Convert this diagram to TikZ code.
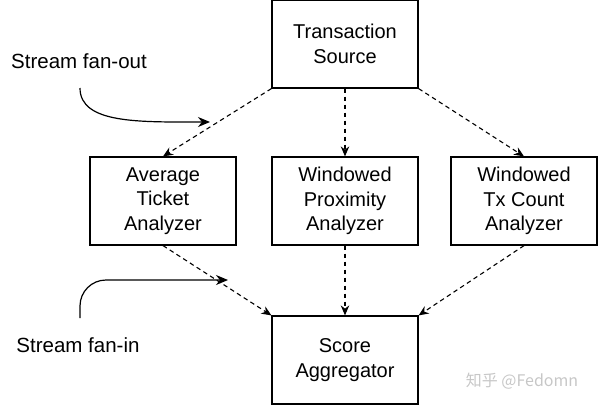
\documentclass[tikz,border=0pt]{standalone}
\usepackage{fontspec}
\setmainfont{Liberation Sans}
\newfontfamily\cjkfont{Noto Sans CJK SC}
\usetikzlibrary{arrows.meta}

\begin{document}
\begin{tikzpicture}[x=1pt, y=-1pt,
  stagebox/.style={draw, line width=1.2pt, minimum width=146pt, minimum height=88pt,
    inner sep=0pt, align=center, font=\fontsize{20}{24.5}\selectfont},
  flow/.style={-{Stealth[length=10pt,width=8.5pt]}, dashed, dash pattern=on 4.5pt off 3.5pt, line width=1.1pt},
  note/.style={-{Stealth[length=12pt,width=10pt]}, line width=1.2pt},
  notetext/.style={font=\fontsize{20.5}{24}\selectfont}]
\useasboundingbox (0,0) rectangle (600,405);

%stages
  \node[stagebox] (src)  at (345,44)  {Transaction\\Source};
  \node[stagebox] (avg)  at (163,201) {Average\\Ticket\\Analyzer};
  \node[stagebox] (prox) at (345,201) {Windowed\\Proximity\\Analyzer};
  \node[stagebox] (cnt)  at (524,201) {Windowed\\Tx Count\\Analyzer};
  \node[stagebox] (agg)  at (345,360) {Score\\Aggregator};

%fan-out
  \draw[flow] (src.south west) -- (avg.north);
  \draw[flow] (src) -- (prox);
  \draw[flow] (src.south east) -- (cnt.north);

%fan-in
  \draw[flow] (avg.south) -- (agg.north west);
  \draw[flow] (prox) -- (agg);
  \draw[flow] (cnt.south) -- (agg.north east);

%notes
  \node[notetext] (fanout) at (79,61) {Stream fan-out};
  \coordinate (fanoutS) at (80,88);
  \coordinate (fanoutE) at (210,122);
  \draw[note] (fanoutS) .. controls (80,124) and (140,122) .. (fanoutE);

  \node[notetext] (fanin) at (78,345) {Stream fan-in};
  \coordinate (faninS) at (80,318);
  \coordinate (faninE) at (228,280);
  \draw[note, rounded corners=26pt] (faninS) |- (faninE);

%watermark
  \node[text=black!22, font=\cjkfont\fontsize{16}{18}\selectfont] (mark) at (522,381) {知乎 @Fedomn};
\end{tikzpicture}
\end{document}
